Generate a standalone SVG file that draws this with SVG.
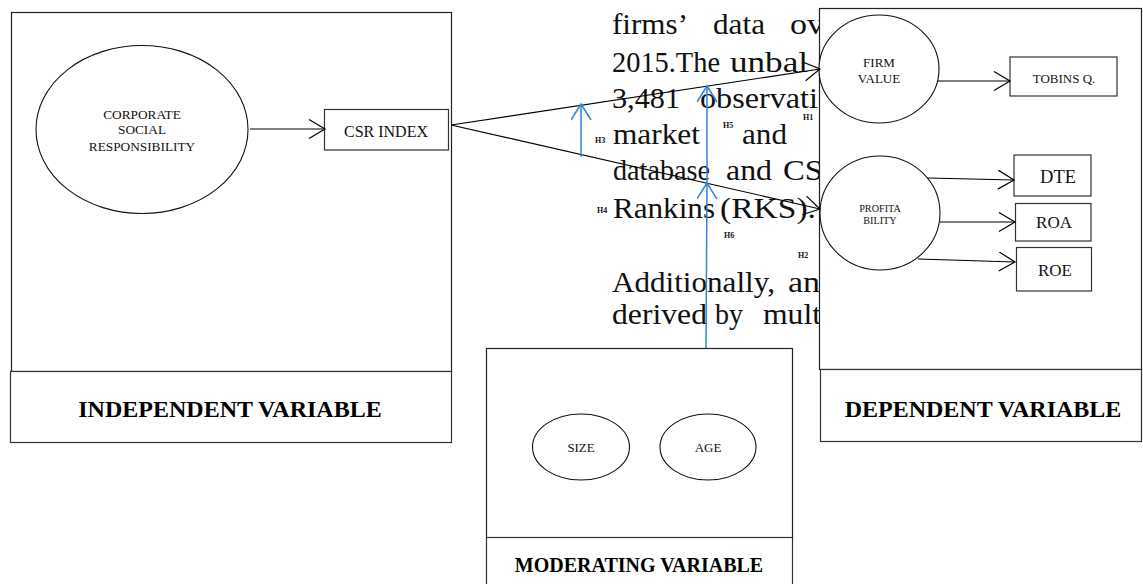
<svg xmlns="http://www.w3.org/2000/svg" width="1143" height="584" viewBox="0 0 1143 584">
<style>
  .para { font-family: "Liberation Serif", "Times New Roman", serif; font-size: 28.5px; fill: #111; }
  .box { fill: #fff; stroke: #222; stroke-width: 1.2; }
  .sbox { fill: #fff; stroke: #333; stroke-width: 1.2; }
  .ell { fill: #fff; stroke: #111; stroke-width: 1.1; }
  .t { font-family: "Liberation Serif", "Times New Roman", serif; fill: #111; text-anchor: middle; }
  .lbl { font-family: "Liberation Serif", "Times New Roman", serif; font-weight: bold; fill: #000; text-anchor: middle; }
  .h { font-family: "Liberation Serif", "Times New Roman", serif; font-weight: bold; font-size: 8px; fill: #111; }
  .con { fill: none; stroke: #000; stroke-width: 1.2; }
  .blue { fill: none; stroke: #2f86d4; stroke-width: 1.5; }
</style>
<defs>
  <marker id="arr" markerUnits="userSpaceOnUse" markerWidth="20" markerHeight="22" refX="17" refY="10" orient="auto">
    <path d="M1,0.5 L17,10 L1,19.5" fill="none" stroke="#000" stroke-width="1.2"/>
  </marker>
  <marker id="arrb" markerUnits="userSpaceOnUse" markerWidth="20" markerHeight="22" refX="17" refY="10" orient="auto">
    <path d="M1,0 L17,10 L1,20" fill="none" stroke="#2f86d4" stroke-width="1.5"/>
  </marker>
</defs>
<rect width="1143" height="584" fill="#fff"/>

<g id="background-text" class="para">
  <text x="612" y="34" textLength="76" lengthAdjust="spacingAndGlyphs">firms’</text>
  <text x="713" y="34" textLength="52" lengthAdjust="spacingAndGlyphs">data</text>
  <text x="790" y="34" textLength="34" lengthAdjust="spacingAndGlyphs">ov</text>
  <text x="612" y="72" textLength="108" lengthAdjust="spacingAndGlyphs">2015.The</text>
  <text x="730" y="72" textLength="78" lengthAdjust="spacingAndGlyphs">unbal</text>
  <text x="612" y="108" textLength="68" lengthAdjust="spacingAndGlyphs">3,481</text>
  <text x="700" y="108" textLength="118" lengthAdjust="spacingAndGlyphs">observati</text>
  <text x="613" y="144" textLength="87" lengthAdjust="spacingAndGlyphs">market</text>
  <text x="742" y="144" textLength="45" lengthAdjust="spacingAndGlyphs">and</text>
  <text x="613" y="180" textLength="97" lengthAdjust="spacingAndGlyphs">database</text>
  <text x="726" y="180" textLength="46" lengthAdjust="spacingAndGlyphs">and</text>
  <text x="783" y="180" textLength="40" lengthAdjust="spacingAndGlyphs">CS</text>
  <text x="613" y="218" textLength="102" lengthAdjust="spacingAndGlyphs">Rankins</text>
  <text x="720" y="218" textLength="96" lengthAdjust="spacingAndGlyphs">(RKS).</text>
  <text x="612" y="292" textLength="163" lengthAdjust="spacingAndGlyphs">Additionally,</text>
  <text x="788" y="292" textLength="32" lengthAdjust="spacingAndGlyphs">an</text>
  <text x="612" y="324" textLength="95" lengthAdjust="spacingAndGlyphs">derived</text>
  <text x="715" y="324" textLength="28" lengthAdjust="spacingAndGlyphs">by</text>
  <text x="763" y="324" textLength="58" lengthAdjust="spacingAndGlyphs">mult</text>
</g>

<g id="dependent-variable">
  <rect class="box" x="819.5" y="8.5" width="322" height="361"/>
  <rect class="sbox" x="820.5" y="369.5" width="321" height="72"/>
  <text class="lbl" x="983" y="417" font-size="24">DEPENDENT VARIABLE</text>
</g>

<g id="moderating-variable">
  <rect class="box" x="486.5" y="348.5" width="306" height="190"/>
  <rect class="sbox" x="486.5" y="537.5" width="306" height="60"/>
  <text class="lbl" x="639" y="572" font-size="20">MODERATING VARIABLE</text>
</g>

<g id="independent-variable">
  <rect class="box" x="11.5" y="12.5" width="440" height="359"/>
  <rect class="sbox" x="10.5" y="371.5" width="441" height="71"/>
  <text class="lbl" x="230" y="417" font-size="24">INDEPENDENT VARIABLE</text>
</g>

<g id="csr">
  <ellipse class="ell" cx="142" cy="129.5" rx="106" ry="84"/>
  <text class="t" font-size="13.3"><tspan x="142" y="119">CORPORATE</tspan><tspan x="142" y="134">SOCIAL</tspan><tspan x="142" y="151">RESPONSIBILITY</tspan></text>
</g>
<g id="csr-index">
  <rect class="sbox" x="324.5" y="109.5" width="124" height="40.5"/>
  <text class="t" x="386" y="137" font-size="16">CSR INDEX</text>
</g>

<g id="firm-value">
  <ellipse class="ell" cx="879" cy="69" rx="60" ry="54"/>
  <text class="t" font-size="13"><tspan x="879" y="67">FIRM</tspan><tspan x="879" y="83">VALUE</tspan></text>
</g>
<g id="tobins-q">
  <rect class="sbox" x="1010" y="57" width="107" height="39"/>
  <text class="t" x="1064" y="83" font-size="13">TOBINS Q.</text>
</g>

<g id="profitability">
  <ellipse class="ell" cx="880" cy="213" rx="60" ry="57"/>
  <text class="t" font-size="10.2"><tspan x="880" y="212">PROFITA</tspan><tspan x="880" y="224">BILITY</tspan></text>
</g>
<g id="dte">
  <rect class="sbox" x="1014" y="155" width="77" height="41"/>
  <text class="t" x="1058" y="183" font-size="18.5">DTE</text>
</g>
<g id="roa">
  <rect class="sbox" x="1015.5" y="203.5" width="75.5" height="37.5"/>
  <text class="t" x="1054" y="228" font-size="17">ROA</text>
</g>
<g id="roe">
  <rect class="sbox" x="1016.5" y="247.5" width="75" height="43.5"/>
  <text class="t" x="1055" y="276" font-size="17">ROE</text>
</g>

<g id="size">
  <ellipse class="ell" cx="581" cy="447" rx="48.5" ry="33"/>
  <text class="t" x="581" y="452" font-size="12.8">SIZE</text>
</g>
<g id="age">
  <ellipse class="ell" cx="708" cy="447" rx="48" ry="33"/>
  <text class="t" x="708" y="452" font-size="13">AGE</text>
</g>

<g id="connectors">
  <line class="con" x1="250" y1="129" x2="325" y2="129" marker-end="url(#arr)"/>
  <line class="con" x1="451" y1="125" x2="820" y2="69" marker-end="url(#arr)"/>
  <line class="con" x1="451" y1="125" x2="820" y2="209" marker-end="url(#arr)"/>
  <line class="con" x1="937" y1="81" x2="1010" y2="81" marker-end="url(#arr)"/>
  <line class="con" x1="928" y1="178" x2="1014" y2="180" marker-end="url(#arr)"/>
  <line class="con" x1="940" y1="222" x2="1015" y2="222" marker-end="url(#arr)"/>
  <line class="con" x1="918" y1="259" x2="1015" y2="262" marker-end="url(#arr)"/>
  <line class="blue" x1="581" y1="157" x2="581" y2="104" marker-end="url(#arrb)"/>
  <line class="blue" x1="706" y1="348" x2="707" y2="183" marker-end="url(#arrb)"/>
  <line class="blue" x1="707" y1="183" x2="707" y2="86" marker-end="url(#arrb)"/>
</g>

<g id="hypothesis-labels" class="h">
  <text x="595" y="143">H3</text>
  <text x="597" y="213">H4</text>
  <text x="723" y="128">H5</text>
  <text x="803" y="120">H1</text>
  <text x="724" y="238">H6</text>
  <text x="798" y="258">H2</text>
</g>
</svg>
